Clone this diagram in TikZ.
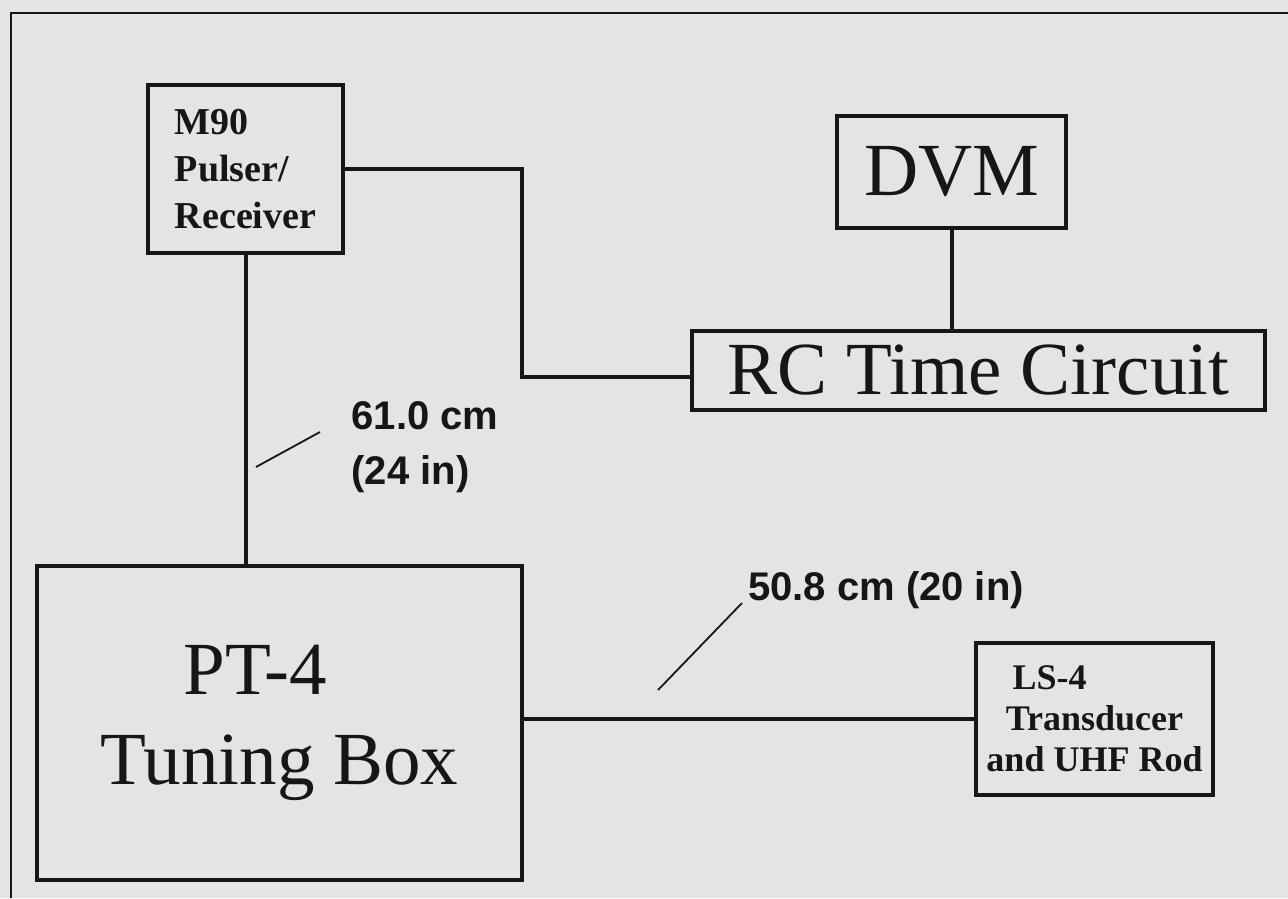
\documentclass[tikz,border=0pt]{standalone}
\usepackage{fontspec}
\setmainfont{Liberation Serif}
\setsansfont{Liberation Sans}
\definecolor{paper}{RGB}{229,227,227}
\definecolor{ink}{RGB}{22,22,22}

\begin{document}
\begin{tikzpicture}[x=0.5pt,y=-0.5pt,line join=miter,
  box/.style={draw=ink,line width=2.2pt,inner sep=0pt,text=ink},
  wire/.style={draw=ink,line width=2pt},
  leader/.style={draw=ink,line width=0.9pt},
  big/.style={align=center,font=\fontsize{37.5pt}{45pt}\selectfont},
  dist/.style={font=\sffamily\bfseries\fontsize{20pt}{27.5pt}\selectfont,
    text=ink,inner sep=0pt,align=left}]

% -----------------------
% Background and frame
% -----------------------
\fill[paper] (0,0) rectangle (1288,898);
\useasboundingbox (0,0) rectangle (1288,898);
\draw[ink,line width=1.4pt] (1288,13) -- (11,13) -- (11,898);

% -----------------------
% Instruments
% -----------------------
\node[box,align=left,font=\bfseries\fontsize{19pt}{23.5pt}\selectfont,
  minimum width=97.5pt,minimum height=84pt] (m90) at (245.5,169)
  {M90\\Pulser/\\Receiver};
\node[box,big,minimum width=114.5pt,minimum height=56pt] (dvm) at (951.5,172) {DVM};
\node[box,big,minimum width=286.5pt,minimum height=39.5pt] (rc) at (978.5,370.5)
  {RC Time Circuit};
\node[box,big,minimum width=242.5pt,minimum height=157pt] (pt) at (279.5,723)
  {\hspace*{-0.65em}PT-4\\Tuning Box};
\node[box,align=center,font=\bfseries\fontsize{18pt}{20.5pt}\selectfont,
  minimum width=118.5pt,minimum height=76pt] (ls) at (1094.5,719)
  {\hspace*{-2.5em}LS-4\\Transducer\\and UHF Rod};

% -----------------------
% Cables
% -----------------------
\coordinate (bend) at (522,377);
\draw[wire] (m90.east) -| (bend) -- (bend -| rc.west);
\draw[wire] (dvm.south) -- (dvm.south |- rc.north);
\draw[wire] (m90.south) -- (m90.south |- pt.north);
\draw[wire] (pt.east |- ls.west) -- (ls.west);

% -----------------------
% Cable lengths
% -----------------------
\node[dist] (len1) at (425,447) {61.0 cm\\(24 in)};
\node[dist] (len2) at (886,590) {50.8 cm (20 in)};
\coordinate (tip1) at (256,467);
\coordinate (tip2) at (658,690);
\draw[leader] (tip1) -- (320,432);
\draw[leader] (tip2) -- (742,603);

\end{tikzpicture}
\end{document}
